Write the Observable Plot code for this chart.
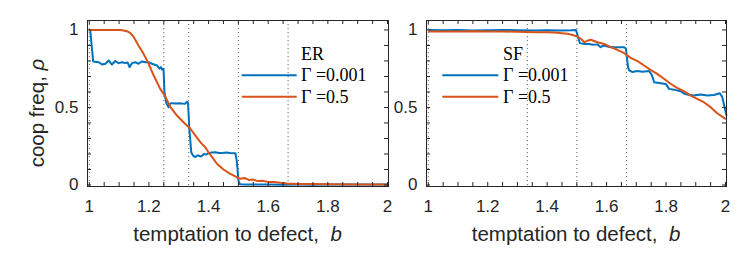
<!DOCTYPE html>
<html>
<head>
<meta charset="utf-8">
<script src="https://cdn.jsdelivr.net/npm/d3@7"></script>
<script src="https://cdn.jsdelivr.net/npm/@observablehq/plot@0.6"></script>
<style>
  html, body { margin: 0; padding: 0; background: #fff; }
  #chart { position: relative; width: 747px; height: 267px; overflow: hidden; }
  #chart svg { position: absolute; top: 0; }
</style>
</head>
<body>
<div id="chart"></div>
<script>
// ---------------- data ----------------
const panelNames = ["ER", "SF"];
const seriesLabels = ["Γ =0.001", "Γ =0.5"];
const seriesColors = ["#0072BD", "#D95319"];

const xTickValues = [1, 1.2, 1.4, 1.6, 1.8, 2];
const yTickValues = [0, 0.5, 1];
const xLabelText = "temptation to defect,";
const xLabelVar = "b";
const yLabelText = "coop freq, ";
const yLabelVar = "ρ";

// critical b values (dotted guides)
const erGuides = [1, 1.25, 4 / 3, 1.5, 5 / 3];
const sfGuides = [1, 4 / 3, 1.5, 5 / 3];

// ER, Γ = 0.001
const erLowB = [1.003, 1.013, 1.020, 1.031, 1.043, 1.054, 1.065, 1.076, 1.087, 1.098, 1.110, 1.121, 1.129, 1.135, 1.143, 1.154, 1.165, 1.177, 1.188, 1.199, 1.210, 1.220, 1.227, 1.235, 1.240, 1.244, 1.249, 1.252, 1.258, 1.266, 1.271, 1.277, 1.290, 1.300, 1.310, 1.322, 1.327, 1.331, 1.336, 1.342, 1.348, 1.356, 1.362, 1.367, 1.372, 1.378, 1.384, 1.390, 1.396, 1.400, 1.410, 1.423, 1.435, 1.445, 1.460, 1.473, 1.490, 1.495, 1.500, 1.505, 1.520, 1.550, 1.600, 1.650, 1.700, 1.750, 1.800, 1.850, 1.900, 1.950, 2.000];
const erLowRho = [1.0, 0.797, 0.795, 0.792, 0.777, 0.782, 0.803, 0.777, 0.800, 0.786, 0.792, 0.786, 0.790, 0.760, 0.786, 0.792, 0.782, 0.797, 0.792, 0.792, 0.782, 0.776, 0.771, 0.750, 0.760, 0.745, 0.750, 0.600, 0.530, 0.502, 0.525, 0.528, 0.526, 0.527, 0.525, 0.524, 0.537, 0.530, 0.350, 0.210, 0.190, 0.180, 0.190, 0.190, 0.184, 0.188, 0.200, 0.197, 0.200, 0.205, 0.210, 0.211, 0.207, 0.206, 0.210, 0.207, 0.205, 0.150, 0.030, 0.005, 0.004, 0.003, 0.003, 0.002, 0.003, 0.002, 0.004, 0.003, 0.004, 0.003, 0.004];

// ER, Γ = 0.5
const erHighB = [1.003, 1.050, 1.080, 1.104, 1.115, 1.126, 1.138, 1.149, 1.165, 1.182, 1.199, 1.216, 1.238, 1.255, 1.272, 1.294, 1.316, 1.339, 1.361, 1.375, 1.389, 1.400, 1.410, 1.428, 1.450, 1.473, 1.490, 1.507, 1.520, 1.535, 1.550, 1.565, 1.580, 1.600, 1.618, 1.640, 1.663, 1.700, 1.750, 1.800, 1.900, 2.000];
const erHighRho = [1.0, 1.0, 1.0, 1.0, 0.997, 0.992, 0.980, 0.954, 0.900, 0.846, 0.782, 0.706, 0.620, 0.570, 0.502, 0.448, 0.405, 0.363, 0.305, 0.270, 0.244, 0.210, 0.185, 0.137, 0.100, 0.072, 0.055, 0.040, 0.045, 0.033, 0.035, 0.025, 0.028, 0.020, 0.020, 0.014, 0.010, 0.007, 0.006, 0.005, 0.004, 0.004];

// SF, Γ = 0.001
const sfLowB = [1.003, 1.050, 1.100, 1.150, 1.200, 1.250, 1.300, 1.350, 1.400, 1.450, 1.480, 1.497, 1.503, 1.510, 1.525, 1.540, 1.555, 1.569, 1.580, 1.590, 1.600, 1.614, 1.636, 1.659, 1.665, 1.672, 1.676, 1.687, 1.704, 1.720, 1.743, 1.752, 1.760, 1.782, 1.799, 1.810, 1.827, 1.849, 1.860, 1.871, 1.893, 1.916, 1.939, 1.961, 1.981, 1.989, 1.997, 2.003];
const sfLowRho = [1.0, 0.998, 1.0, 0.997, 0.998, 1.0, 0.998, 0.997, 0.998, 0.996, 0.998, 1.0, 0.960, 0.915, 0.910, 0.910, 0.905, 0.907, 0.889, 0.900, 0.895, 0.889, 0.889, 0.889, 0.880, 0.760, 0.739, 0.729, 0.735, 0.730, 0.735, 0.710, 0.663, 0.657, 0.652, 0.620, 0.615, 0.605, 0.590, 0.584, 0.577, 0.584, 0.577, 0.580, 0.592, 0.567, 0.502, 0.450];

// SF, Γ = 0.5
const sfHighB = [1.003, 1.050, 1.100, 1.150, 1.200, 1.250, 1.300, 1.357, 1.400, 1.424, 1.450, 1.469, 1.485, 1.502, 1.515, 1.525, 1.535, 1.547, 1.569, 1.592, 1.614, 1.636, 1.659, 1.681, 1.704, 1.726, 1.748, 1.770, 1.793, 1.815, 1.837, 1.860, 1.883, 1.905, 1.927, 1.950, 1.972, 2.000];
const sfHighRho = [0.990, 0.990, 0.990, 0.992, 0.990, 0.990, 0.988, 0.985, 0.985, 0.983, 0.978, 0.975, 0.968, 0.958, 0.940, 0.921, 0.930, 0.937, 0.921, 0.910, 0.889, 0.872, 0.850, 0.820, 0.799, 0.771, 0.743, 0.717, 0.685, 0.653, 0.627, 0.605, 0.577, 0.556, 0.534, 0.502, 0.463, 0.427];

// ---------------- drawing ----------------
const toRows = (bs, rs) => bs.map((b, i) => ({b, rho: rs[i]}));
const axisColor = "#262626";
const sansFont = "'Liberation Sans', Arial, Helvetica, sans-serif";
const serifFont = "'Liberation Serif', 'Times New Roman', serif";
const xMinor = d3.range(1, 2.0001, 0.05);
const yMinor = d3.range(0, 1.0001, 0.1);
const H = 267, mTop = 20, mBottom = 81;
const plotH = H - mTop - mBottom;

function panel({width, marginLeft, marginRight, guides, low, high}) {
  const plotW = width - marginLeft - marginRight;
  return Plot.plot({
    width, height: H, marginLeft, marginRight, marginTop: mTop, marginBottom: mBottom,
    x: {domain: [0.994, 2.0034]},
    y: {domain: [-0.0097, 1.061]},
    style: {fontFamily: sansFont, color: axisColor, background: "transparent", overflow: "visible"},
    marks: [
      Plot.ruleX(guides, {stroke: "#6a6a6a", strokeWidth: 1, strokeDasharray: "1.2,2.8"}),
      Plot.line(low, {x: "b", y: "rho", stroke: seriesColors[0], strokeWidth: 2}),
      Plot.line(high, {x: "b", y: "rho", stroke: seriesColors[1], strokeWidth: 2}),
      Plot.frame({stroke: axisColor, strokeWidth: 1}),
      Plot.ruleX(xMinor, {stroke: axisColor, insetTop: plotH - 4}),
      Plot.ruleX(xMinor, {stroke: axisColor, insetBottom: plotH - 4}),
      Plot.ruleY(yMinor, {stroke: axisColor, insetRight: plotW - 4}),
      Plot.ruleY(yMinor, {stroke: axisColor, insetLeft: plotW - 4}),
      Plot.axisX(xTickValues, {tickSize: 0, tickPadding: 13, fontSize: 17, tickFormat: d => String(d), label: null}),
      Plot.axisY(yTickValues, {tickSize: 0, tickPadding: 9, fontSize: 17, tickFormat: d => String(d), label: null})
    ]
  });
}

const chart = document.getElementById("chart");
const left = panel({width: 400, marginLeft: 87, marginRight: 12, guides: erGuides,
  low: toRows(erLowB, erLowRho), high: toRows(erHighB, erHighRho)});
left.style.left = "0px";
const right = panel({width: 347, marginLeft: 26, marginRight: 21, guides: sfGuides,
  low: toRows(sfLowB, sfLowRho), high: toRows(sfHighB, sfHighRho)});
right.style.left = "400px";
chart.appendChild(left);
chart.appendChild(right);

// overlay: axis titles and legends
const ns = "http://www.w3.org/2000/svg";
const ov = d3.select(chart).append("svg")
  .attr("width", 747).attr("height", 267)
  .style("left", "0px").style("pointer-events", "none");

[237.5, 576].forEach(cx => {
  const t = ov.append("text").attr("x", cx).attr("y", 240.5)
    .attr("text-anchor", "middle").attr("font-family", sansFont)
    .attr("font-size", 20.5).attr("fill", axisColor);
  t.append("tspan").text(xLabelText + "\u00A0 ");
  t.append("tspan").attr("font-style", "italic").text(xLabelVar);
});

const yl = ov.append("text").attr("transform", "translate(43.5,113) rotate(-90)")
  .attr("text-anchor", "middle").attr("font-family", sansFont)
  .attr("font-size", 20.5).attr("fill", axisColor);
yl.append("tspan").text(yLabelText);
yl.append("tspan").attr("font-style", "italic").text(yLabelVar);

const legends = [
  {x1: 241.7, x2: 296.7, tx: 301},
  {x1: 442.3, x2: 498.3, tx: 503}
];
legends.forEach((lg, p) => {
  ov.append("text").attr("x", lg.tx).attr("y", 60).attr("font-family", serifFont)
    .attr("font-size", 18).attr("fill", "#000").text(panelNames[p]);
  seriesLabels.forEach((lab, i) => {
    const cy = 75.3 + i * 21.4;
    ov.append("line").attr("x1", lg.x1).attr("x2", lg.x2).attr("y1", cy).attr("y2", cy)
      .attr("stroke", seriesColors[i]).attr("stroke-width", 2);
    ov.append("text").attr("x", lg.tx).attr("y", cy + 6).attr("font-family", serifFont)
      .attr("font-size", 18).attr("fill", "#000").text(lab);
  });
});
</script>
</body>
</html>
